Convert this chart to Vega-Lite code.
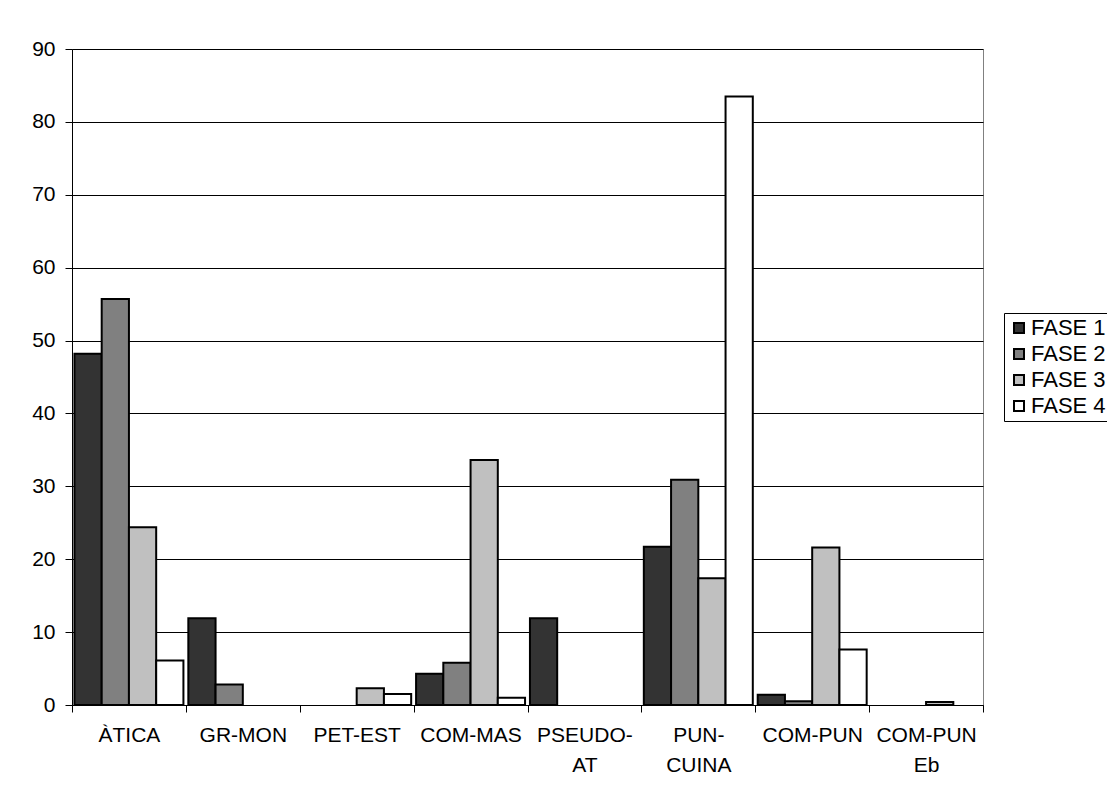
{
  "$schema": "https://vega.github.io/schema/vega-lite/v6.json",
  "width": 911,
  "height": 656,
  "autosize": {"type": "none"},
  "padding": {"left": 72, "top": 49, "right": 124, "bottom": 93},
  "background": "white",
  "data": {
    "values": [
      {"categoria": "ÀTICA", "fase": "FASE 1", "valor": 48.2},
      {"categoria": "ÀTICA", "fase": "FASE 2", "valor": 55.7},
      {"categoria": "ÀTICA", "fase": "FASE 3", "valor": 24.4},
      {"categoria": "ÀTICA", "fase": "FASE 4", "valor": 6.1},
      {"categoria": "GR-MON", "fase": "FASE 1", "valor": 11.9},
      {"categoria": "GR-MON", "fase": "FASE 2", "valor": 2.8},
      {"categoria": "GR-MON", "fase": "FASE 3", "valor": 0},
      {"categoria": "GR-MON", "fase": "FASE 4", "valor": 0},
      {"categoria": "PET-EST", "fase": "FASE 1", "valor": 0},
      {"categoria": "PET-EST", "fase": "FASE 2", "valor": 0},
      {"categoria": "PET-EST", "fase": "FASE 3", "valor": 2.3},
      {"categoria": "PET-EST", "fase": "FASE 4", "valor": 1.5},
      {"categoria": "COM-MAS", "fase": "FASE 1", "valor": 4.3},
      {"categoria": "COM-MAS", "fase": "FASE 2", "valor": 5.8},
      {"categoria": "COM-MAS", "fase": "FASE 3", "valor": 33.6},
      {"categoria": "COM-MAS", "fase": "FASE 4", "valor": 1.0},
      {"categoria": "PSEUDO-AT", "fase": "FASE 1", "valor": 11.9},
      {"categoria": "PSEUDO-AT", "fase": "FASE 2", "valor": 0},
      {"categoria": "PSEUDO-AT", "fase": "FASE 3", "valor": 0},
      {"categoria": "PSEUDO-AT", "fase": "FASE 4", "valor": 0},
      {"categoria": "PUN-CUINA", "fase": "FASE 1", "valor": 21.7},
      {"categoria": "PUN-CUINA", "fase": "FASE 2", "valor": 30.9},
      {"categoria": "PUN-CUINA", "fase": "FASE 3", "valor": 17.4},
      {"categoria": "PUN-CUINA", "fase": "FASE 4", "valor": 83.5},
      {"categoria": "COM-PUN", "fase": "FASE 1", "valor": 1.4},
      {"categoria": "COM-PUN", "fase": "FASE 2", "valor": 0.5},
      {"categoria": "COM-PUN", "fase": "FASE 3", "valor": 21.6},
      {"categoria": "COM-PUN", "fase": "FASE 4", "valor": 7.6},
      {"categoria": "COM-PUN Eb", "fase": "FASE 1", "valor": 0},
      {"categoria": "COM-PUN Eb", "fase": "FASE 2", "valor": 0},
      {"categoria": "COM-PUN Eb", "fase": "FASE 3", "valor": 0.4},
      {"categoria": "COM-PUN Eb", "fase": "FASE 4", "valor": 0}
    ]
  },
  "transform": [{"filter": "datum.valor > 0"}],
  "mark": {"type": "bar", "stroke": "black", "strokeWidth": 2},
  "encoding": {
    "x": {
      "field": "categoria",
      "type": "nominal",
      "sort": ["ÀTICA", "GR-MON", "PET-EST", "COM-MAS", "PSEUDO-AT", "PUN-CUINA", "COM-PUN", "COM-PUN Eb"],
      "scale": {
        "domain": ["ÀTICA", "GR-MON", "PET-EST", "COM-MAS", "PSEUDO-AT", "PUN-CUINA", "COM-PUN", "COM-PUN Eb"],
        "paddingInner": 0,
        "paddingOuter": 0
      },
      "axis": {
        "title": null,
        "labelAngle": 0,
        "tickBand": "extent",
        "tickSize": 7,
        "tickColor": "black",
        "domainColor": "black",
        "labelPadding": 12,
        "labelLineHeight": 30,
        "labelExpr": "datum.value == 'PSEUDO-AT' ? ['PSEUDO-', 'AT'] : datum.value == 'PUN-CUINA' ? ['PUN-', 'CUINA'] : datum.value == 'COM-PUN Eb' ? ['COM-PUN', 'Eb'] : datum.value"
      }
    },
    "xOffset": {
      "field": "fase",
      "type": "nominal",
      "scale": {"domain": ["FASE 1", "FASE 2", "FASE 3", "FASE 4"], "paddingInner": 0, "paddingOuter": 0.09}
    },
    "y": {
      "field": "valor",
      "type": "quantitative",
      "scale": {"domain": [0, 90], "nice": false},
      "axis": {
        "title": null,
        "values": [0, 10, 20, 30, 40, 50, 60, 70, 80, 90],
        "grid": true,
        "gridColor": "black",
        "gridOpacity": 1,
        "gridWidth": 1,
        "tickSize": 7,
        "tickColor": "black",
        "domainColor": "black",
        "labelPadding": 10
      }
    },
    "fill": {
      "field": "fase",
      "type": "nominal",
      "scale": {
        "domain": ["FASE 1", "FASE 2", "FASE 3", "FASE 4"],
        "range": ["#333333", "#808080", "#c0c0c0", "#ffffff"]
      },
      "legend": {
        "title": null,
        "orient": "none",
        "legendX": 932,
        "legendY": 264,
        "symbolType": "square",
        "symbolSize": 100,
        "symbolStrokeColor": "black",
        "symbolStrokeWidth": 2,
        "symbolOpacity": 1,
        "labelFontSize": 22,
        "labelColor": "black",
        "labelOffset": 1,
        "rowPadding": 4,
        "padding": 4,
        "strokeColor": "black",
        "fillColor": "white"
      }
    }
  },
  "config": {
    "font": "Liberation Sans",
    "view": {"stroke": "#808080", "strokeWidth": 1},
    "axis": {
      "labelFont": "Liberation Sans",
      "labelFontSize": 21,
      "labelColor": "black",
      "domainWidth": 1,
      "tickWidth": 1
    },
    "legend": {"labelFont": "Liberation Sans"}
  }
}
